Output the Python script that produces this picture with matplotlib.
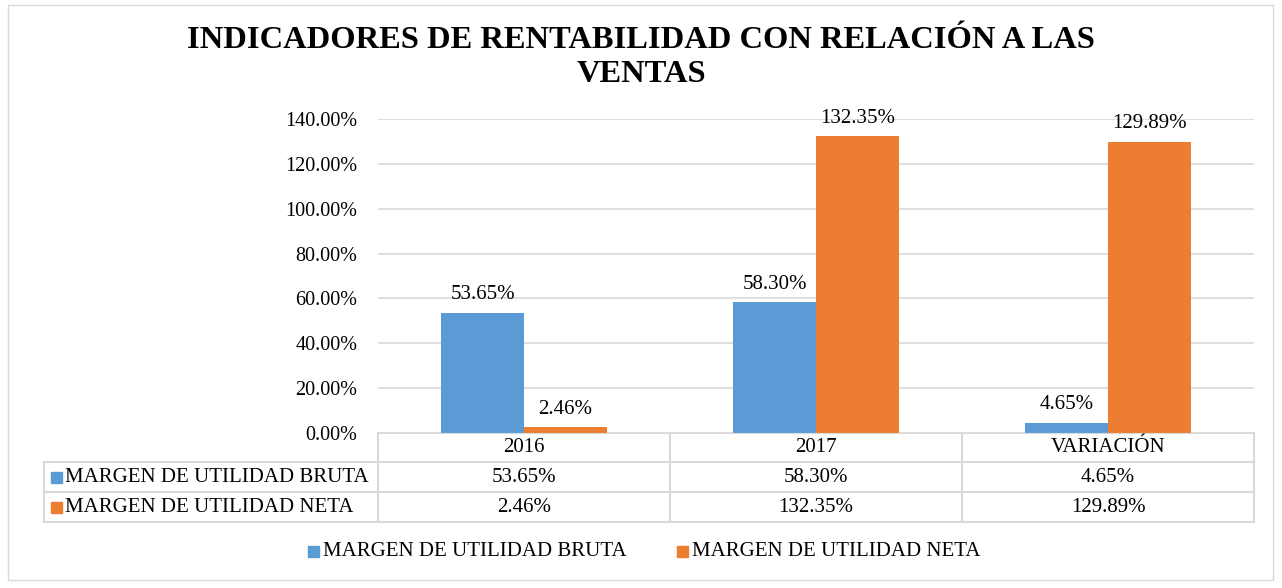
import matplotlib
matplotlib.use('Agg')
import matplotlib.pyplot as plt
from matplotlib.lines import Line2D
from matplotlib.patches import Rectangle

plt.rcParams['font.family'] = ['Liberation Serif', 'DejaVu Serif']

categories = ['2016', '2017', 'VARIACIÓN']
series_names = ['MARGEN DE UTILIDAD BRUTA', 'MARGEN DE UTILIDAD NETA']
bruta = [53.65, 58.30, 4.65]
neta = [2.46, 132.35, 129.89]
yticks = [0, 20, 40, 60, 80, 100, 120, 140]
colors = ['#5B9BD5', '#ED7D31']
title = 'INDICADORES DE RENTABILIDAD CON RELACIÓN A LAS\nVENTAS'

W, H = 1282, 588
fig = plt.figure(figsize=(W / 100, H / 100), dpi=100)

def fx(px):
    return px / W

def fy(py):
    return 1 - py / H

# outer border
fig.add_artist(Rectangle((fx(8), fy(580)), fx(1273) - fx(8), fy(5) - fy(580),
                         transform=fig.transFigure, fill=False, ec='#d9d9d9', lw=1))

ax_l, ax_r, ax_t, ax_b = 378, 1254, 119, 433
ax = fig.add_axes([fx(ax_l), fy(ax_b), fx(ax_r) - fx(ax_l), fy(ax_t) - fy(ax_b)])

x = list(range(len(categories)))
w = 0.284
b1 = ax.bar([i - w / 2 for i in x], bruta, w, color=colors[0], label=series_names[0])
b2 = ax.bar([i + w / 2 for i in x], neta, w, color=colors[1], label=series_names[1])
for bars, vals in ((b1, bruta), (b2, neta)):
    for r, v in zip(bars, vals):
        ax.annotate(f'{v:.2f}%', (r.get_x() + r.get_width() / 2, v), xytext=(0, 6),
                    textcoords='offset points', ha='center', va='bottom', fontsize=15)

ax.set_xlim(-0.5, len(categories) - 0.5)
ax.set_ylim(0, 140)
ax.set_yticks(yticks)
ax.set_yticklabels([f'{t:.2f}%' for t in yticks], fontsize=14.5)
ax.set_xticks([])
ax.yaxis.grid(True, color='#d9d9d9', lw=1.2)
ax.set_axisbelow(True)
for s in ['top', 'right', 'left']:
    ax.spines[s].set_visible(False)
ax.spines['bottom'].set_color('#d9d9d9')
ax.tick_params(axis='y', length=0, pad=15)

fig.text(0.5, fy(57.5), title, ha='center', va='center', fontsize=23.4, fontweight='bold',
         linespacing=1.25)

# data table
grid_c = '#d9d9d9'
cols = [378, 670, 962, 1254]
rows = [433, 462, 492, 522]
tab_left = 44

def hline(y, x0, x1):
    fig.add_artist(Line2D([fx(x0), fx(x1)], [fy(y), fy(y)], transform=fig.transFigure,
                          color=grid_c, lw=1.5))

def vline(xp, y0, y1):
    fig.add_artist(Line2D([fx(xp), fx(xp)], [fy(y0), fy(y1)], transform=fig.transFigure,
                          color=grid_c, lw=1.5))

for r in rows[1:]:
    hline(r, tab_left, 1254)
for c in cols:
    vline(c, 433, rows[-1])
vline(tab_left, 462, rows[-1])

for i, cat in enumerate(categories):
    cx = (cols[i] + cols[i + 1]) / 2
    fig.text(fx(cx), fy((rows[0] + rows[1]) / 2), cat, ha='center', va='center', fontsize=15)
    for j, vals in enumerate((bruta, neta)):
        fig.text(fx(cx), fy((rows[j + 1] + rows[j + 2]) / 2), f'{vals[i]:.2f}%',
                 ha='center', va='center', fontsize=15)

for j, name in enumerate(series_names):
    cy = (rows[j + 1] + rows[j + 2]) / 2
    fig.add_artist(Rectangle((fx(51), fy(cy + 5.5)), fx(11), fy(0) - fy(11),
                             transform=fig.transFigure, color=colors[j]))
    fig.text(fx(65), fy(cy), name, ha='left', va='center', fontsize=15)

# legend
leg_y = 551
for xs, name, c in ((308, series_names[0], colors[0]), (677, series_names[1], colors[1])):
    fig.add_artist(Rectangle((fx(xs), fy(leg_y + 5.5)), fx(11), fy(0) - fy(11),
                             transform=fig.transFigure, color=c))
    fig.text(fx(xs + 15), fy(leg_y), name, ha='left', va='center', fontsize=15)

fig.savefig('out.png', dpi=100)
